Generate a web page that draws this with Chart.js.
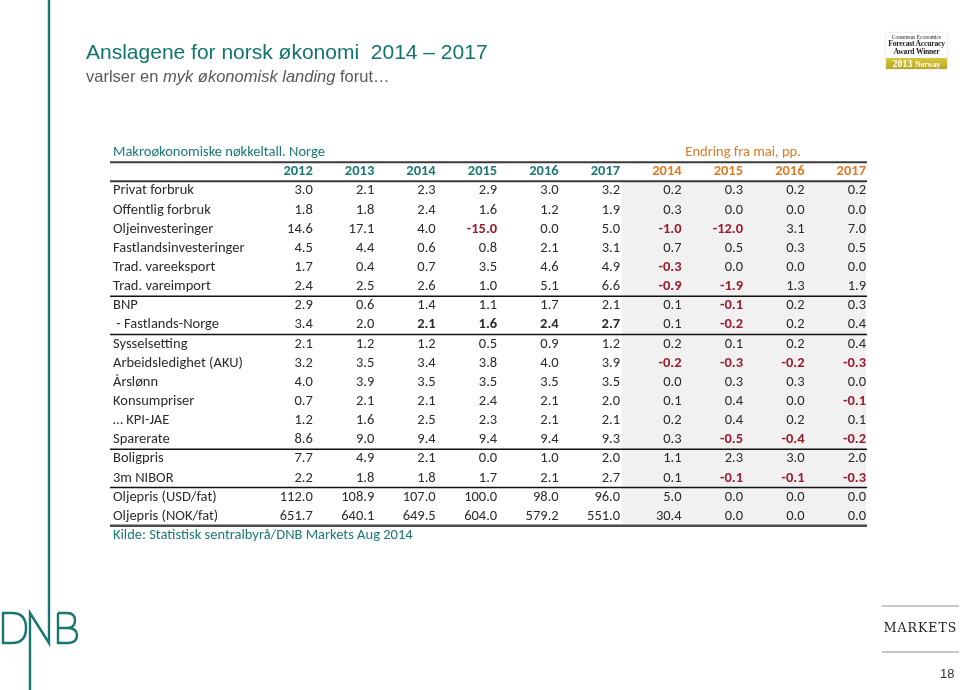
<!DOCTYPE html>
<html>
<head>
<meta charset="utf-8">
<script src="https://cdn.jsdelivr.net/npm/chart.js@4/dist/chart.umd.min.js"></script>
<style>
  html, body { margin:0; padding:0; background:#fff; }
  #wrap { position:relative; width:960px; height:690px; overflow:hidden; }
  #tbl { position:absolute; left:0; top:0; }
  .title { position:absolute; left:86px; top:40px; font-family:"Liberation Sans", Arial, sans-serif; font-size:21px; color:#0f756c; white-space:pre; }
  .sub { position:absolute; left:86px; top:67px; font-family:"Liberation Sans", Arial, sans-serif; font-size:16.5px; color:#595959; white-space:pre; }
  .badge { position:absolute; left:886px; top:33px; width:61px; height:36px; font-family:"Liberation Serif", "DejaVu Serif", serif; text-align:center; color:#222; background:#fff; box-shadow:0 0 2px #ccc; white-space:nowrap; overflow:hidden; }
  .badge .l1 { font-size:5.5px; line-height:6px; margin-top:1px; }
  .badge .l2 { font-size:7.6px; line-height:8px; font-weight:bold; letter-spacing:-0.2px; }
  .badge .band { margin-top:2px; height:11px; line-height:11px; background:linear-gradient(#d6c63a,#b9a828); color:#fff; font-size:10px; font-weight:bold; }
  .badge .band span { font-size:7.5px; }
  .markets { position:absolute; left:882px; top:605px; width:77px; height:44px; border-top:2px solid #c8c8c8; border-bottom:2px solid #c8c8c8; font-family:"DejaVu Serif", "Liberation Serif", serif; font-size:12.5px; letter-spacing:1px; text-align:center; line-height:42px; color:#222; }
  .page { position:absolute; left:940px; top:666px; font-family:"Liberation Sans", Arial, sans-serif; font-size:13px; color:#333; }
  svg.logo { position:absolute; left:0; top:0; pointer-events:none; }
</style>
</head>
<body>
<div id="wrap">
  <canvas id="tbl" width="960" height="690"></canvas>
  <svg class="logo" width="960" height="690">
    <g fill="none" stroke="#17766f" stroke-width="2.4">
      <path d="M3,613 V643 H12 Q26,643 26,628 Q26,613 12,613 Z"/>
      <path d="M30,690 V613 L49,643 V0"/>
      <path d="M58,613 V643 H68 Q77,643 77,635 Q77,628 67,628 H58 M67,628 Q75,628 75,620.5 Q75,613 67,613 H58"/>
    </g>
  </svg>
  <div class="title">Anslagene for norsk økonomi  2014 – 2017</div>
  <div class="sub">varlser en <i>myk økonomisk landing</i> forut…</div>
  <div class="badge">
    <div class="l1">Consensus Economics</div>
    <div class="l2">Forecast Accuracy</div>
    <div class="l2">Award Winner</div>
    <div class="band">2013 <span>Norway</span></div>
  </div>
  <div class="markets">MARKETS</div>
  <div class="page">18</div>
</div>
<script>
// ====== data ======
const caption = "Makroøkonomiske nøkkeltall. Norge";
const changeCaption = "Endring fra mai, pp.";
const source = "Kilde: Statistisk sentralbyrå/DNB Markets Aug 2014";

const rowLabels = [
  "Privat forbruk", "Offentlig forbruk", "Oljeinvesteringer", "Fastlandsinvesteringer",
  "Trad. vareeksport", "Trad. vareimport", "BNP", " - Fastlands-Norge",
  "Sysselsetting", "Arbeidsledighet (AKU)", "Årslønn", "Konsumpriser",
  "… KPI-JAE", "Sparerate", "Boligpris", "3m NIBOR",
  "Oljepris (USD/fat)", "Oljepris (NOK/fat)"
];
const years = ["2012", "2013", "2014", "2015", "2016", "2017"];
const changeYears = ["2014", "2015", "2016", "2017"];

// nivå (prosent / pris)
const y2012 = [3.0, 1.8, 14.6, 4.5, 1.7, 2.4, 2.9, 3.4, 2.1, 3.2, 4.0, 0.7, 1.2, 8.6, 7.7, 2.2, 112.0, 651.7];
const y2013 = [2.1, 1.8, 17.1, 4.4, 0.4, 2.5, 0.6, 2.0, 1.2, 3.5, 3.9, 2.1, 1.6, 9.0, 4.9, 1.8, 108.9, 640.1];
const y2014 = [2.3, 2.4, 4.0, 0.6, 0.7, 2.6, 1.4, 2.1, 1.2, 3.4, 3.5, 2.1, 2.5, 9.4, 2.1, 1.8, 107.0, 649.5];
const y2015 = [2.9, 1.6, -15.0, 0.8, 3.5, 1.0, 1.1, 1.6, 0.5, 3.8, 3.5, 2.4, 2.3, 9.4, 0.0, 1.7, 100.0, 604.0];
const y2016 = [3.0, 1.2, 0.0, 2.1, 4.6, 5.1, 1.7, 2.4, 0.9, 4.0, 3.5, 2.1, 2.1, 9.4, 1.0, 2.1, 98.0, 579.2];
const y2017 = [3.2, 1.9, 5.0, 3.1, 4.9, 6.6, 2.1, 2.7, 1.2, 3.9, 3.5, 2.0, 2.1, 9.3, 2.0, 2.7, 96.0, 551.0];

// endring fra mai, pp.
const chg2014 = [0.2, 0.3, -1.0, 0.7, -0.3, -0.9, 0.1, 0.1, 0.2, -0.2, 0.0, 0.1, 0.2, 0.3, 1.1, 0.1, 5.0, 30.4];
const chg2015 = [0.3, 0.0, -12.0, 0.5, 0.0, -1.9, -0.1, -0.2, 0.1, -0.3, 0.3, 0.4, 0.4, -0.5, 2.3, -0.1, 0.0, 0.0];
const chg2016 = [0.2, 0.0, 3.1, 0.3, 0.0, 1.3, 0.2, 0.2, 0.2, -0.2, 0.3, 0.0, 0.2, -0.4, 3.0, -0.1, 0.0, 0.0];
const chg2017 = [0.2, 0.0, 7.0, 0.5, 0.0, 1.9, 0.3, 0.4, 0.4, -0.3, 0.0, -0.1, 0.1, -0.2, 2.0, -0.3, 0.0, 0.0];

const levelCols = [y2012, y2013, y2014, y2015, y2016, y2017];
const changeCols = [chg2014, chg2015, chg2016, chg2017];

// rader med fet skrift (nivå) og skillelinjer under
const boldLevelRow = " - Fastlands-Norge";
const boldLevelYears = ["2014", "2015", "2016", "2017"];
const ruleAfter = ["Trad. vareimport", " - Fastlands-Norge", "Sparerate", "3m NIBOR"];

// ====== farger / font ======
const TEAL = "#1a7a70", ORANGE = "#e07a22", RED = "#9b1c2e", INK = "#2b2b2b";
const FONT = '"Carlito", "Lato", "Open Sans", sans-serif';
const FS = 14.5;

// y-kategorier: caption, header, datarader, kilde
const yKeys = ["_cap", "_hdr", ...rowLabels, "_src"];
// x: kolonne 1..10 (høyrejustert tall), LABEL_X = radetikett
const LABEL_X = -2.25;
const SHADE_FROM = 6.03;

const shade = yKeys.map(k => rowLabels.includes(k) ? [SHADE_FROM, 10] : null);

const fmt = v => v.toFixed(1);

const tablePlugin = {
  id: "tableText",
  afterDatasetsDraw(chart) {
    const ctx = chart.ctx;
    const x = chart.scales.x, y = chart.scales.y;
    const left = x.getPixelForValue(LABEL_X), right = x.getPixelForValue(10);
    const rowY = k => y.getPixelForValue(yKeys.indexOf(k));
    const between = (a, b) => (y.getPixelForValue(a) + y.getPixelForValue(b)) / 2;
    ctx.save();
    ctx.textBaseline = "middle";

    // caption
    ctx.font = `${FS}px ${FONT}`;
    ctx.fillStyle = TEAL; ctx.textAlign = "left";
    ctx.fillText(caption, left, rowY("_cap"));
    ctx.fillStyle = ORANGE; ctx.textAlign = "center";
    ctx.fillText(changeCaption, x.getPixelForValue(8), rowY("_cap"));

    // header
    ctx.font = `bold ${FS}px ${FONT}`;
    ctx.textAlign = "right";
    years.forEach((yr, i) => { ctx.fillStyle = TEAL; ctx.fillText(yr, x.getPixelForValue(i + 1), rowY("_hdr")); });
    changeYears.forEach((yr, i) => { ctx.fillStyle = ORANGE; ctx.fillText(yr, x.getPixelForValue(i + 7), rowY("_hdr")); });

    // rader
    rowLabels.forEach((lab, r) => {
      const py = rowY(lab);
      ctx.font = `${FS}px ${FONT}`; ctx.fillStyle = INK; ctx.textAlign = "left";
      ctx.fillText(lab, left, py);
      ctx.textAlign = "right";
      levelCols.forEach((col, c) => {
        const v = col[r];
        const bold = v < 0 || (lab === boldLevelRow && boldLevelYears.includes(years[c]));
        ctx.font = `${bold ? "bold " : ""}${FS}px ${FONT}`;
        ctx.fillStyle = v < 0 ? RED : INK;
        ctx.fillText(fmt(v), x.getPixelForValue(c + 1), py);
      });
      changeCols.forEach((col, c) => {
        const v = col[r];
        ctx.font = `${v < 0 ? "bold " : ""}${FS}px ${FONT}`;
        ctx.fillStyle = v < 0 ? RED : INK;
        ctx.fillText(fmt(v), x.getPixelForValue(c + 7), py);
      });
    });

    // kilde
    ctx.font = `${FS}px ${FONT}`; ctx.fillStyle = TEAL; ctx.textAlign = "left";
    ctx.fillText(source, left, rowY("_src"));

    // linjer
    const hline = (py, w, col) => {
      ctx.beginPath(); ctx.lineWidth = w; ctx.strokeStyle = col;
      ctx.moveTo(left - 3, py); ctx.lineTo(right + 1, py); ctx.stroke();
    };
    hline(between(0, 1), 2, "#3a3a3a");
    hline(between(1, 2), 2, "#3a3a3a");
    ruleAfter.forEach(k => { const i = yKeys.indexOf(k); hline(between(i, i + 1), 1.5, "#111"); });
    const last = yKeys.indexOf(rowLabels[rowLabels.length - 1]);
    hline(between(last, last + 1), 2.5, "#4a4a4a");
    ctx.restore();
  }
};

new Chart(document.getElementById("tbl"), {
  type: "bar",
  data: {
    labels: yKeys,
    datasets: [{
      data: shade,
      backgroundColor: "#f1f1f1",
      borderWidth: 0,
      barPercentage: 1,
      categoryPercentage: 1
    }]
  },
  options: {
    indexAxis: "y",
    responsive: false,
    animation: false,
    layout: { padding: { left: 113, right: 94, top: 143, bottom: 145 } },
    scales: {
      x: { type: "linear", min: LABEL_X, max: 10, display: false },
      y: { type: "category", display: false }
    },
    plugins: { legend: { display: false }, tooltip: { enabled: false } }
  },
  plugins: [tablePlugin]
});
</script>
</body>
</html>
